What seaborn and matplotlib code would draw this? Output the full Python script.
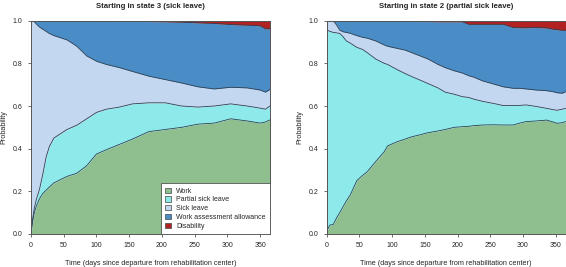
import matplotlib
matplotlib.use("Agg")
import matplotlib.pyplot as plt
from matplotlib.patches import Patch
import seaborn as sns
import pandas as pd
import numpy as np

# Panel 1: starting in state 3 (sick leave) -- cumulative upper bounds of each state
days_s3 = [0, 2, 5, 8, 13, 18, 23, 28, 35, 45, 55, 70, 85, 100, 115, 135, 155,
           180, 205, 230, 255, 280, 305, 330, 350, 358, 365]
work_s3 = [0, 0.05, 0.10, 0.13, 0.165, 0.19, 0.205, 0.22, 0.24, 0.255, 0.27, 0.285,
           0.32, 0.375, 0.395, 0.42, 0.445, 0.48, 0.49, 0.50, 0.515, 0.52, 0.54,
           0.53, 0.52, 0.525, 0.535]
partial_s3 = [0, 0.06, 0.12, 0.16, 0.21, 0.28, 0.36, 0.41, 0.45, 0.47, 0.49, 0.51,
              0.54, 0.57, 0.585, 0.595, 0.61, 0.615, 0.615, 0.60, 0.595, 0.60, 0.61,
              0.60, 0.59, 0.585, 0.60]
sick_s3 = [1.0, 1.0, 0.995, 0.985, 0.97, 0.96, 0.95, 0.94, 0.93, 0.92, 0.91, 0.88,
           0.835, 0.81, 0.795, 0.78, 0.762, 0.74, 0.724, 0.708, 0.69, 0.68, 0.688,
           0.685, 0.675, 0.665, 0.678]
waa_s3 = [1.0, 1.0, 1.0, 1.0, 1.0, 1.0, 1.0, 1.0, 1.0, 1.0, 1.0, 1.0, 1.0, 0.998,
          0.998, 0.997, 0.997, 0.996, 0.995, 0.993, 0.99, 0.987, 0.982, 0.979,
          0.976, 0.962, 0.962]

# Panel 2: starting in state 2 (partial sick leave)
days_s2 = [0, 1, 5, 10, 15, 20, 25, 30, 36, 46, 55, 62, 75, 88, 93, 108, 120, 130,
           140, 155, 170, 181, 195, 207, 217, 225, 238, 255, 270, 285, 295, 305,
           320, 336, 346, 352, 360, 365]
work_s2 = [0, 0.02, 0.042, 0.045, 0.075, 0.10, 0.128, 0.155, 0.183, 0.25, 0.275,
           0.292, 0.34, 0.386, 0.413, 0.433, 0.445, 0.456, 0.463, 0.475, 0.483,
           0.49, 0.50, 0.503, 0.505, 0.508, 0.511, 0.512, 0.511, 0.511, 0.52,
           0.527, 0.53, 0.534, 0.525, 0.519, 0.522, 0.527]
partial_s2 = [1.0, 0.955, 0.95, 0.945, 0.943, 0.94, 0.925, 0.905, 0.895, 0.875,
              0.865, 0.85, 0.82, 0.80, 0.795, 0.77, 0.752, 0.738, 0.725, 0.705,
              0.685, 0.665, 0.655, 0.644, 0.64, 0.632, 0.622, 0.612, 0.602, 0.602,
              0.603, 0.605, 0.598, 0.589, 0.583, 0.58, 0.585, 0.589]
sick_s2 = [1.0, 1.0, 1.0, 1.0, 0.98, 0.955, 0.948, 0.945, 0.941, 0.93, 0.922,
           0.918, 0.905, 0.886, 0.88, 0.87, 0.862, 0.85, 0.838, 0.82, 0.795, 0.78,
           0.765, 0.755, 0.742, 0.735, 0.718, 0.703, 0.69, 0.683, 0.683, 0.68,
           0.675, 0.672, 0.667, 0.662, 0.66, 0.667]
waa_s2 = [1.0, 1.0, 1.0, 1.0, 1.0, 1.0, 1.0, 1.0, 1.0, 1.0, 1.0, 1.0, 1.0, 1.0,
          1.0, 1.0, 0.998, 0.997, 0.996, 0.996, 0.995, 0.995, 0.995, 0.995, 0.983,
          0.983, 0.983, 0.983, 0.983, 0.968, 0.967, 0.967, 0.968, 0.966, 0.96,
          0.958, 0.955, 0.955]

states = ["Work", "Partial sick leave", "Sick leave", "Work assessment allowance", "Disability"]
colors = ["#8fbf8f", "#8eeaea", "#c4d7f0", "#4a8cc6", "#b22222"]
titles = ["Starting in state 3 (sick leave)", "Starting in state 2 (partial sick leave)"]

panels = [
    (days_s3, [work_s3, partial_s3, sick_s3, waa_s3]),
    (days_s2, [work_s2, partial_s2, sick_s2, waa_s2]),
]

sns.set_style("ticks")
plt.rcParams["font.family"] = ["Liberation Sans", "DejaVu Sans"]

fig = plt.figure(figsize=(5.66, 2.67), dpi=100)
axes = [fig.add_axes([0.0548, 0.1236, 0.4222, 0.7989]),
        fig.add_axes([0.5772, 0.1236, 0.4220, 0.7989])]

for ax, (days, bounds), title in zip(axes, panels, titles):
    t = np.array(days, dtype=float)
    levels = [np.zeros_like(t)] + [np.array(b) for b in bounds] + [np.ones_like(t)]
    for i in range(5):
        ax.fill_between(t, levels[i], levels[i + 1], color=colors[i], linewidth=0, zorder=1)
    lines = pd.DataFrame({
        "day": np.tile(t, 4),
        "p": np.concatenate(bounds),
        "b": np.repeat(np.arange(4), len(t)),
    })
    sns.lineplot(data=lines, x="day", y="p", units="b", estimator=None,
                 color="#2f4050", linewidth=0.6, ax=ax, zorder=2, legend=False)
    ax.set_xlim(0, 365)
    ax.set_ylim(0, 1)
    ax.set_xticks(range(0, 351, 50))
    ax.set_yticks(np.arange(0, 1.01, 0.2))
    ax.set_yticklabels([f"{v:.1f}" for v in np.arange(0, 1.01, 0.2)])
    ax.tick_params(labelsize=5, length=2.5, width=0.6, color="#555555", pad=3.5)
    for s in ax.spines.values():
        s.set_visible(True)
        s.set_color("#555555")
        s.set_linewidth(0.7)
    ax.set_title(title, fontsize=5.6, fontweight="bold", pad=9)
    ax.set_xlabel("Time (days since departure from rehabilitation center)", fontsize=5.2, labelpad=7.5)
    ax.set_ylabel("Probability", fontsize=5.2, labelpad=4)

handles = [Patch(facecolor=c, edgecolor="#444444", linewidth=0.5) for c in colors]
leg = axes[0].legend(handles, states, loc="lower right", fontsize=5, frameon=True,
                     fancybox=False, borderaxespad=0, handlelength=0.8, handleheight=0.8,
                     handletextpad=0.8, labelspacing=0.25, borderpad=0.6)
leg.get_frame().set_edgecolor("#555555")
leg.get_frame().set_linewidth(0.6)
leg.get_frame().set_facecolor("white")
leg.get_frame().set_alpha(1)

fig.savefig("out.png", dpi=100)
